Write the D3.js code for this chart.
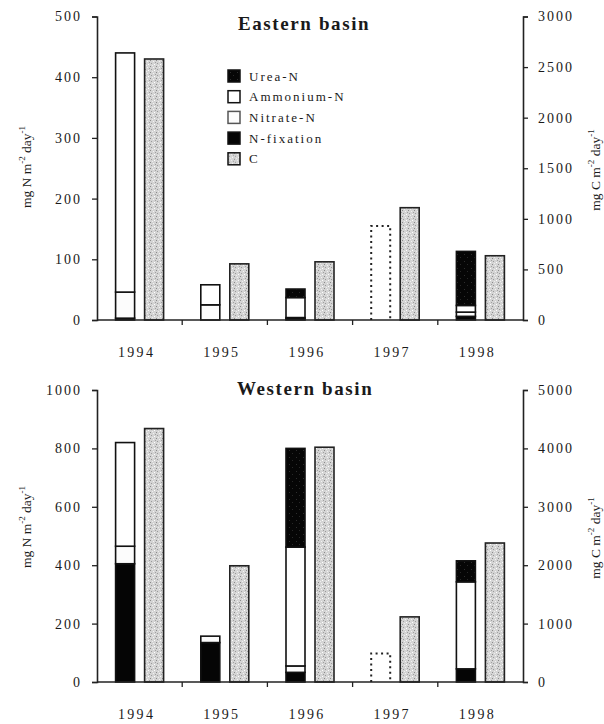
<!DOCTYPE html>
<html>
<head>
<meta charset="utf-8">
<script src="https://cdn.jsdelivr.net/npm/d3@7"></script>
<style>
  html, body { margin: 0; padding: 0; background: #fff; }
  svg { display: block; }
  svg text { font-family: "Liberation Serif", "Times New Roman", serif !important; fill: #1a1a1a; }
</style>
</head>
<body>
<svg id="chart" width="604" height="724"></svg>
<script>
// ---------------- DATA ----------------
const years = ["1994", "1995", "1996", "1997", "1998"];

// Eastern basin (mg N m-2 day-1), stacked bottom -> top
const eastNfix     = [3, 0, 2, 0, 6];
const eastNitrate  = [43, 25, 2, 0, 7];
const eastAmmonium = [394, 33, 33, 0, 11];
const eastUrea     = [0, 0, 14, 0, 89];
const eastEstimatedN = [0, 0, 0, 155, 0];   // dotted (no data) bar
const eastC        = [2580, 555, 575, 1110, 635]; // mg C m-2 day-1

// Western basin
const westNfix     = [405, 135, 33, 0, 45];
const westNitrate  = [60, 22, 22, 0, 0];
const westAmmonium = [355, 0, 407, 0, 298];
const westUrea     = [0, 0, 338, 0, 72];
const westEstimatedN = [0, 0, 0, 98, 0];
const westC        = [4340, 1990, 4020, 1115, 2380];

// Tick labels
const eastNTicks = [0, 100, 200, 300, 400, 500];
const eastCTicks = [0, 500, 1000, 1500, 2000, 2500, 3000];
const westNTicks = [0, 200, 400, 600, 800, 1000];
const westCTicks = [0, 1000, 2000, 3000, 4000, 5000];

const legendLabels = ["Urea-N", "Ammonium-N", "Nitrate-N", "N-fixation", "C"];
const stackKeys = ["nfix", "nitrate", "ammonium", "urea"];

// ---------------- SETUP ----------------
const FONT = '"Liberation Serif", "Times New Roman", serif';
const svg = d3.select("#chart");
const defs = svg.append("defs");

// stipple pattern for C bars
const pc = defs.append("pattern").attr("id", "stipC")
  .attr("patternUnits", "userSpaceOnUse").attr("width", 6).attr("height", 6);
pc.append("rect").attr("width", 6).attr("height", 6).attr("fill", "#d4d4d4");
[[0,0,"#8a8a8a"],[3,1,"#f2f2f2"],[1,3,"#9a9a9a"],[4,4,"#ffffff"],[5,2,"#a0a0a0"],[2,5,"#eeeeee"]]
  .forEach(([x,y,c]) => pc.append("rect").attr("x", x).attr("y", y).attr("width", 1).attr("height", 1).attr("fill", c));

// dark pattern for Urea (nearly black, sparse grey specks)
const pu = defs.append("pattern").attr("id", "stipU")
  .attr("patternUnits", "userSpaceOnUse").attr("width", 7).attr("height", 7);
pu.append("rect").attr("width", 7).attr("height", 7).attr("fill", "#060606");
pu.append("rect").attr("x", 2).attr("y", 2).attr("width", 1).attr("height", 1).attr("fill", "#2e2e2e");
pu.append("rect").attr("x", 5).attr("y", 5).attr("width", 1).attr("height", 1).attr("fill", "#282828");

const fills = {
  nfix: "#050505",
  nitrate: "#fcfcfc",
  ammonium: "#ffffff",
  urea: "url(#stipU)",
  C: "url(#stipC)"
};

const xLeft = 97, xRight = 523;
const x = d3.scaleBand().domain(years).range([xLeft, xRight]).paddingInner(0).paddingOuter(0);
const xSub = d3.scaleBand().domain(["N", "C"]).range([18.6, 66.6]).paddingInner(0.345).paddingOuter(0);

function drawPanel(cfg) {
  const g = svg.append("g");
  const yN = d3.scaleLinear().domain([0, cfg.nMax]).range([cfg.y0, cfg.yTop]);
  const yC = d3.scaleLinear().domain([0, cfg.cMax]).range([cfg.y0, cfg.yTop]);

  // stacked N bars
  const rows = years.map((yr, i) => ({
    year: yr, nfix: cfg.nfix[i], nitrate: cfg.nitrate[i], ammonium: cfg.ammonium[i], urea: cfg.urea[i]
  }));
  const series = d3.stack().keys(stackKeys)(rows);
  series.forEach(s => {
    g.append("g").selectAll("rect").data(s.filter(d => d[1] - d[0] > 0)).join("rect")
      .attr("x", d => x(d.data.year) + xSub("N"))
      .attr("width", xSub.bandwidth())
      .attr("y", d => yN(d[1]))
      .attr("height", d => yN(d[0]) - yN(d[1]))
      .attr("fill", fills[s.key])
      .attr("stroke", "#111").attr("stroke-width", 1.6);
  });

  // dotted estimated bars
  const est = years.map((yr, i) => ({ year: yr, v: cfg.est[i] })).filter(d => d.v > 0);
  g.append("g").selectAll("path").data(est).join("path")
    .attr("d", d => {
      const x0 = x(d.year) + xSub("N"), x1 = x0 + xSub.bandwidth();
      return `M${x0},${yN(0)}V${yN(d.v)}H${x1}V${yN(0)}`;
    })
    .attr("fill", "none").attr("stroke", "#222").attr("stroke-width", 2)
    .attr("stroke-dasharray", "2,3.5");

  // C bars
  g.append("g").selectAll("rect").data(years.map((yr, i) => ({ year: yr, v: cfg.C[i] }))).join("rect")
    .attr("x", d => x(d.year) + xSub("C"))
    .attr("width", xSub.bandwidth())
    .attr("y", d => yC(d.v))
    .attr("height", d => yC(0) - yC(d.v))
    .attr("fill", fills.C)
    .attr("stroke", "#222").attr("stroke-width", 1.6);

  // left axis
  const axL = g.append("g").attr("transform", `translate(${xLeft},0)`);
  axL.call(d3.axisLeft(yN).tickValues(d3.range(0, cfg.nMax + 0.001, cfg.nMinor)).tickSize(3).tickFormat(""));
  axL.call(d3.axisLeft(yN).tickValues(cfg.nTicks).tickSize(5).tickPadding(10).tickFormat(d3.format("d")));
  // right axis
  const axR = g.append("g").attr("transform", `translate(${xRight},0)`);
  axR.call(d3.axisRight(yC).tickValues(d3.range(0, cfg.cMax + 0.001, cfg.cMinor)).tickSize(3).tickFormat(""));
  axR.call(d3.axisRight(yC).tickValues(cfg.cTicks).tickSize(5).tickPadding(10).tickFormat(d3.format("d")));
  [axL, axR].forEach(a => {
    a.attr("font-family", FONT);
    a.selectAll(".domain").attr("stroke", "#222").attr("stroke-width", 1.6);
    a.selectAll(".tick line").attr("stroke", "#222").attr("stroke-width", 1.3);
    a.selectAll(".tick text").attr("font-size", 14).attr("letter-spacing", "2px")
      .attr("font-family", FONT).attr("fill", "#222");
  });

  // bottom axis
  const axB = g.append("g").attr("transform", `translate(0,${cfg.y0})`);
  axB.append("line").attr("x1", xLeft).attr("x2", xRight).attr("stroke", "#222").attr("stroke-width", 1.6);
  axB.selectAll("line.t").data(years.slice(1)).join("line").attr("class", "t")
    .attr("x1", d => x(d)).attr("x2", d => x(d)).attr("y1", 0).attr("y2", 5)
    .attr("stroke", "#222").attr("stroke-width", 1.3);
  axB.selectAll("text").data(years).join("text")
    .attr("x", d => x(d) + x.bandwidth() / 2 - 3)
    .attr("y", 37)
    .attr("text-anchor", "middle")
    .attr("font-family", FONT)
    .attr("font-size", 14).attr("letter-spacing", "2.3px")
    .text(d => d);

  // title
  g.append("text").attr("x", cfg.titleX).attr("y", cfg.titleY)
    .attr("font-family", FONT)
    .attr("font-size", 19).attr("font-weight", "bold").attr("letter-spacing", "1.6px")
    .text(cfg.title);

  // axis titles
  function axisTitle(xp, yp, unit) {
    const t = g.append("text").attr("transform", `translate(${xp},${yp}) rotate(-90)`)
      .attr("text-anchor", "middle").attr("font-size", 13.5).attr("font-family", FONT);
    t.append("tspan").text(`mg ${unit} m`);
    t.append("tspan").attr("font-size", 9).attr("dy", -6).text("-2");
    t.append("tspan").attr("dy", 6).text(" day");
    t.append("tspan").attr("font-size", 9).attr("dy", -6).text("-1");
  }
  axisTitle(31, cfg.titleMidY, "N");
  axisTitle(600, cfg.titleMidYR, "C");
}

drawPanel({
  nMax: 500, cMax: 3000, y0: 320, yTop: 16.5, nMinor: 20, cMinor: 100,
  nTicks: eastNTicks, cTicks: eastCTicks,
  nfix: eastNfix, nitrate: eastNitrate, ammonium: eastAmmonium, urea: eastUrea,
  est: eastEstimatedN, C: eastC,
  title: "Eastern basin", titleX: 238, titleY: 30, titleMidY: 167, titleMidYR: 170
});

drawPanel({
  nMax: 1000, cMax: 5000, y0: 682, yTop: 390, nMinor: 50, cMinor: 250,
  nTicks: westNTicks, cTicks: westCTicks,
  nfix: westNfix, nitrate: westNitrate, ammonium: westAmmonium, urea: westUrea,
  est: westEstimatedN, C: westC,
  title: "Western basin", titleX: 237, titleY: 395, titleMidY: 527, titleMidYR: 538
});

// legend
const legendFills = [fills.urea, fills.ammonium, fills.nitrate, fills.nfix, fills.C];
const lg = svg.append("g").attr("transform", "translate(228,70)");
const li = lg.selectAll("g").data(legendLabels).join("g")
  .attr("transform", (d, i) => `translate(0,${i * 20.7})`);
li.append("rect").attr("width", 12).attr("height", 12)
  .attr("fill", (d, i) => legendFills[i])
  .attr("stroke", (d, i) => i === 2 ? "#555" : "#111").attr("stroke-width", 1.5);
li.append("text").attr("x", 21).attr("y", 10.5).attr("font-size", 13).attr("letter-spacing", "2px")
  .attr("font-family", FONT)
  .text(d => d);
</script>
</body>
</html>
